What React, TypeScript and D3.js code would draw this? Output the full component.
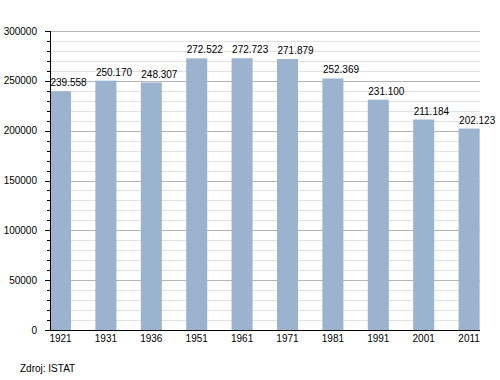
import React from "react";
import * as d3 from "d3";

const years = ["1921", "1931", "1936", "1951", "1961", "1971", "1981", "1991", "2001", "2011"];
const population = [239558, 250170, 248307, 272522, 272723, 271879, 252369, 231100, 211184, 202123];
const valueLabels = ["239.558", "250.170", "248.307", "272.522", "272.723", "271.879", "252.369", "231.100", "211.184", "202.123"];
const majorTicks = [0, 50000, 100000, 150000, 200000, 250000, 300000];
const sourceText = "Zdroj: ISTAT";

export default function App() {
  const left = 50, right = 480, top = 31, bottom = 330;
  const x = d3.scaleBand<string>().domain(years).range([left, 479.6]).paddingInner(0.537).paddingOuter(0).align(0);
  const y = d3.scaleLinear().domain([0, 300000]).range([bottom, top]);
  const minorTicks = d3.range(0, 300001, 10000);
  const font = "Liberation Sans, Arial, sans-serif";
  return (
    <svg width={500} height={380} style={{ position: "absolute", left: 0, top: 0, background: "#fff" }} fontFamily={font}>
      {minorTicks.filter(t => t % 50000 !== 0).map(t => (
        <line key={"mg" + t} x1={left} x2={right} y1={Math.round(y(t)) + 0.5} y2={Math.round(y(t)) + 0.5} stroke="#e2e2e2" strokeWidth={1} />
      ))}
      {majorTicks.filter(t => t !== 0).map(t => (
        <line key={"Mg" + t} x1={left} x2={right} y1={Math.round(y(t)) + 0.5} y2={Math.round(y(t)) + 0.5} stroke="#b5b5b5" strokeWidth={1} />
      ))}
      {population.map((v, i) => (
        <rect key={"b" + i} x={x(years[i])!} y={y(v)} width={x.bandwidth()} height={bottom - y(v)} fill="#9bb3cf" />
      ))}
      {population.map((v, i) => (
        <text key={"l" + i} x={x(years[i])! + 0.5} y={y(v) - 5} fontSize={10} fill="#000">{valueLabels[i]}</text>
      ))}
      {minorTicks.map(t => (
        <line key={"t" + t} x1={t % 50000 === 0 ? left - 5 : left - 3} x2={left} y1={Math.round(y(t)) + 0.5} y2={Math.round(y(t)) + 0.5} stroke="#000" strokeWidth={1} />
      ))}
      {majorTicks.map(t => (
        <text key={"yl" + t} x={37} y={y(t) + 3.5} fontSize={10} textAnchor="end" fill="#000">{t}</text>
      ))}
      <line x1={left + 0.5} x2={left + 0.5} y1={top} y2={bottom} stroke="#000" strokeWidth={1} />
      <line x1={left} x2={right} y1={bottom + 0.5} y2={bottom + 0.5} stroke="#000" strokeWidth={1} />
      {years.map(yr => (
        <text key={"xl" + yr} x={x(yr)! + x.bandwidth() / 2} y={342} fontSize={10} textAnchor="middle" fill="#000">{yr}</text>
      ))}
      <text x={20} y={372} fontSize={10} fill="#000">{sourceText}</text>
    </svg>
  );
}
